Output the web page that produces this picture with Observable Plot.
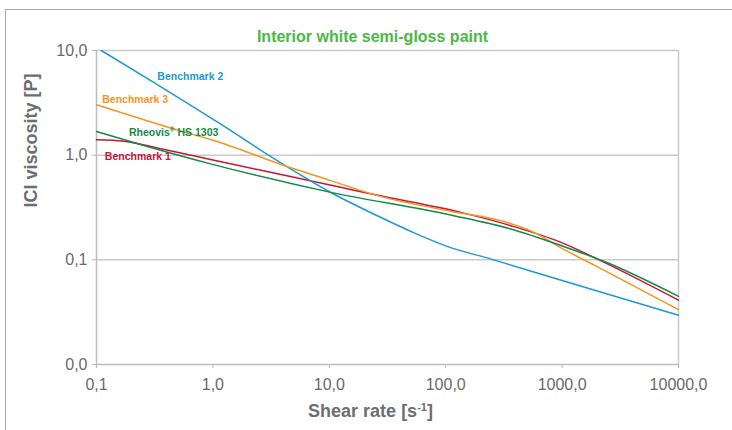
<!DOCTYPE html>
<html><head><meta charset="utf-8">
<script src="https://cdn.jsdelivr.net/npm/d3@7"></script>
<script src="https://cdn.jsdelivr.net/npm/@observablehq/plot@0.6"></script>
<style>
body{margin:0;background:#fff;overflow:hidden}
#wrap{position:relative;width:732px;height:430px;overflow:hidden}
#frame{position:absolute;left:5px;top:9px;width:760px;height:440px;border-top:1.5px solid #ababab;border-left:1.5px solid #ababab}
#wrap svg{position:absolute;left:0;top:0}
</style></head>
<body><div id="wrap"><div id="frame"></div></div>
<script>
// ---- data ----
const title = "Interior white semi-gloss paint";
const xTitle = "Shear rate [s-1]";
const yTitle = "ICI viscosity [P]";
const xTicks = [0.1, 1, 10, 100, 1000, 10000];
const xTickLabels = ["0,1", "1,0", "10,0", "100,0", "1000,0", "10000,0"];
const yTicks = [0.01, 0.1, 1, 10];
const yTickLabels = ["0,0", "0,1", "1,0", "10,0"];
const seriesNames = ["Benchmark 1", "Benchmark 2", "Benchmark 3", "Rheovis® HS 1303"];
const seriesColors = ["#c8153a", "#1b9ad8", "#f7941d", "#138a45"];

const benchmark1 = [[0.1,1.40],[0.171,1.36],[0.333,1.17],[0.955,0.908],[12.5,0.493],[24.2,0.42],[135,0.284],[363,0.212],[977,0.147],[2300,0.0946],[10000,0.0412]];
const benchmark2 = [[0.11,10.0],[0.3,5.07],[1.16,1.99],[3.0,1.0],[10.3,0.44],[25.6,0.265],[56,0.177],[100,0.136],[250,0.101],[1000,0.0635],[10000,0.0295]];
const benchmark3 = [[0.1,3.03],[0.53,1.70],[0.955,1.41],[4.66,0.757],[10.3,0.571],[24.2,0.42],[110,0.291],[298,0.237],[573,0.183],[977,0.13],[1888,0.089],[10000,0.0335]];
const rheovis = [[0.1,1.68],[0.273,1.21],[0.955,0.826],[10.3,0.441],[110,0.268],[363,0.197],[977,0.137],[2286,0.0968],[10000,0.0448]];

const labelNames = ["Benchmark 2", "Benchmark 3", "Rheovis® HS 1303", "Benchmark 1"];
const labelX = [0.333, 0.112, 0.19, 0.118];
const labelY = [5.66, 3.37, 1.63, 0.97];

// ---- build ----
const lineData = [
  ...benchmark1.map(([x, y]) => ({series: seriesNames[0], x, y})),
  ...benchmark2.map(([x, y]) => ({series: seriesNames[1], x, y})),
  ...benchmark3.map(([x, y]) => ({series: seriesNames[2], x, y})),
  ...rheovis.map(([x, y]) => ({series: seriesNames[3], x, y}))
];
const labelData = labelNames.map((s, i) => ({series: s, x: labelX[i], y: labelY[i]}));
const near = (a, b) => Math.abs(Math.log10(a) - Math.log10(b)) < 1e-6;

const chart = Plot.plot({
  width: 732, height: 430,
  marginLeft: 96, marginRight: 54, marginTop: 50, marginBottom: 66,
  style: {fontFamily: "'Liberation Sans', Arial, Helvetica, sans-serif", fontSize: "16px", color: "#6a6a6a", background: "transparent", overflow: "visible"},
  x: {type: "log", domain: [0.1, 10000], ticks: xTicks, tickFormat: d => xTickLabels[xTicks.findIndex(t => near(t, d))], label: null, tickSize: 4, tickPadding: 10},
  y: {type: "log", domain: [0.01, 10], ticks: yTicks, tickFormat: d => yTickLabels[yTicks.findIndex(t => near(t, d))], label: null, tickSize: 4, tickPadding: 5},
  color: {domain: seriesNames, range: seriesColors},
  marks: [
    Plot.ruleY(yTicks.slice(1), {stroke: "#cacaca", strokeWidth: 1.5}),
    Plot.ruleY(yTicks.slice(0, 1), {stroke: "#bdbdbd", strokeWidth: 1.5}),
    Plot.ruleX(xTicks.slice(0, 1), {stroke: "#bdbdbd", strokeWidth: 1.5}),
    Plot.ruleX(xTicks.slice(-1), {stroke: "#cacaca", strokeWidth: 1.5}),
    Plot.line(lineData, {x: "x", y: "y", z: "series", stroke: "series", strokeWidth: 1.5, curve: "monotone-x"}),
    Plot.text(labelData, {x: "x", y: "y", text: "series", fill: "series", textAnchor: "start", fontWeight: "bold", fontSize: 10.5}),
    Plot.text([title], {text: d => d, frameAnchor: "top", dx: -15, dy: -20, fill: "#4cb848", fontWeight: "bold", fontSize: 16}),
    Plot.text([yTitle], {text: d => d, frameAnchor: "left", rotate: -90, dx: -65, fill: "#6d6e71", fontWeight: "bold", fontSize: 18}),
    Plot.text([xTitle], {text: d => d, frameAnchor: "bottom", dx: -17, dy: 52, fill: "#6d6e71", fontWeight: "bold", fontSize: 18})
  ]
});
document.getElementById("wrap").appendChild(chart);

// superscripts and tick colours
const svg = d3.select(chart);
svg.selectAll("text").each(function() {
  const t = this.textContent;
  if (t === "Rheovis® HS 1303") {
    this.innerHTML = 'Rheovis<tspan dy="-4" font-size="6.5">®</tspan><tspan dy="4"> HS 1303</tspan>';
  } else if (t === xTitle) {
    this.innerHTML = 'Shear rate [s<tspan dy="-6" font-size="11">-1</tspan><tspan dy="6">]</tspan>';
  }
});
svg.selectAll('[aria-label="x-axis"] .tick line, [aria-label="y-axis"] .tick line').attr("stroke", "#b5b5b5");
svg.selectAll('[aria-label="x-axis tick"], [aria-label="y-axis tick"]').attr("stroke", "#b5b5b5");
svg.selectAll('[aria-label="x-axis"] .domain, [aria-label="y-axis"] .domain').remove();
</script>
</body></html>
